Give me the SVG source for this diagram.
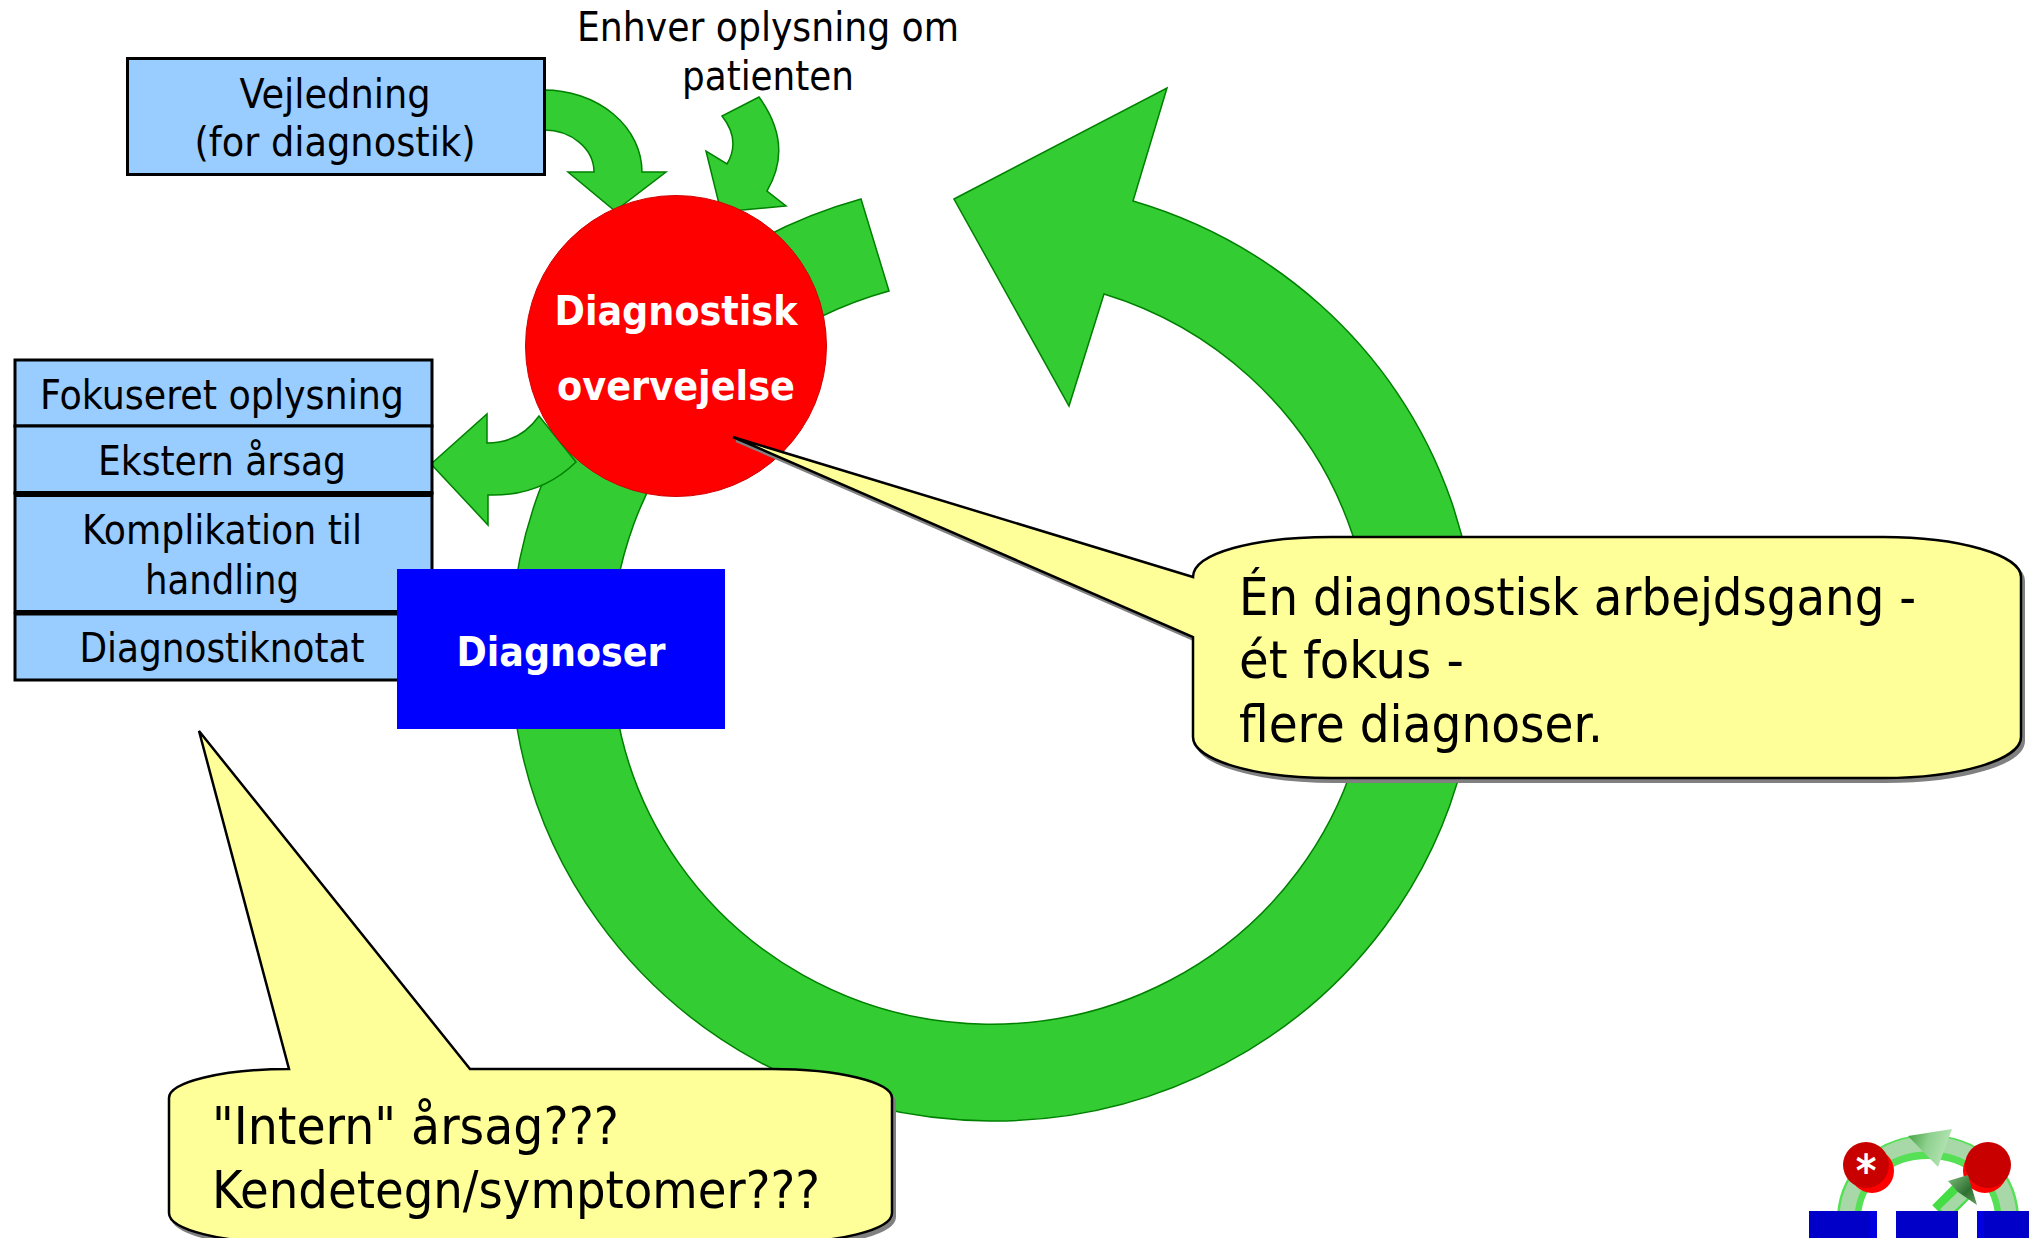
<svg xmlns="http://www.w3.org/2000/svg" width="2029" height="1238" viewBox="0 0 2029 1238">
<style>
text{font-family:"DejaVu Sans Condensed","DejaVu Sans",sans-serif;fill:#000;text-anchor:middle}
.lbl{font-size:40px}
.big{font-size:52px;text-anchor:start}
.wh{font-size:40px;font-weight:bold;fill:#fff}
.arrow{fill:#33cc33;stroke:#008000;stroke-width:1.5}
.box{fill:#99ccff;stroke:#000;stroke-width:3}
.call{fill:#ffff99;stroke:#000;stroke-width:2.5;stroke-linejoin:miter}
.shadow{fill:#808080;stroke:#808080;stroke-width:2}
</style>
<defs>
<path id="c1" d="M733,437 L1193,577 C1193,553 1255,537 1331,537 L1883,537 C1959,537 2021,555 2021,577 L2021,737 C2021,760 1959,778 1883,778 L1331,778 C1255,778 1193,760 1193,737 L1193,637 Z"/>
<path id="c2" d="M199,731 L289,1069 C223,1069 169,1082 169,1098 L169,1213 C169,1230 223,1243 289,1243 L772,1243 C838,1243 892,1230 892,1213 L892,1098 C892,1082 838,1069 772,1069 L470,1069 Z"/>
<linearGradient id="cone" x1="0" y1="0" x2="1" y2="0.3"><stop offset="0" stop-color="#3d9f3d"/><stop offset="0.5" stop-color="#8fd08f"/><stop offset="1" stop-color="#b5e5b5"/></linearGradient>
<linearGradient id="cone2" x1="0" y1="0" x2="1" y2="1"><stop offset="0" stop-color="#7fbf7f"/><stop offset="0.6" stop-color="#2f6f2f"/><stop offset="1" stop-color="#5f9f5f"/></linearGradient>
</defs>
<g id="connectors">
<path id="cycle-arrow" class="arrow" d="M954,199 L1167,88 L1133,201 A483,470 0 1 1 861,199 L889,291 A380,373.500 0 1 0 1104,294 L1069,406 Z"/>
<path id="guide-arrow" class="arrow" d="M544,90 A98,82 0 0 1 642,172 L666,172 L615,211 L568,172 L594,172 A50,42 0 0 0 544,130 Z"/>
<path id="info-arrow" class="arrow" d="M722,116 Q741,140 727,164 L706,151 L721,212 L786,206 L767,191 Q794,145 759,97 Z"/>
<path id="out-arrow" class="arrow" d="M431,464 L487,414 L487,443 Q520,443 539,416 L576,462 Q540,497 488,495 L488,525 Z"/>
</g>
<g id="node-vejledning">
<rect class="box" x="127.500" y="58.500" width="417" height="116"/>
<text class="lbl" x="335" y="108" textLength="191" lengthAdjust="spacingAndGlyphs">Vejledning</text>
<text class="lbl" x="335" y="156" textLength="281" lengthAdjust="spacingAndGlyphs">(for diagnostik)</text>
</g>
<text id="node-enhver-1" class="lbl" x="768" y="41" textLength="382" lengthAdjust="spacingAndGlyphs">Enhver oplysning om</text>
<text id="node-enhver-2" class="lbl" x="768" y="90" textLength="172" lengthAdjust="spacingAndGlyphs">patienten</text>
<g id="node-fokuseret">
<rect class="box" x="15" y="360" width="417" height="66"/>
<text class="lbl" x="222" y="409" textLength="364" lengthAdjust="spacingAndGlyphs">Fokuseret oplysning</text>
</g>
<g id="node-ekstern">
<rect class="box" x="15" y="426" width="417" height="67"/>
<text class="lbl" x="222" y="475" textLength="248" lengthAdjust="spacingAndGlyphs">Ekstern årsag</text>
</g>
<g id="node-komplikation">
<rect class="box" x="15" y="493" width="417" height="119"/>
<rect x="15" y="491" width="417" height="6" fill="#000"/>
<rect x="15" y="610" width="417" height="5" fill="#000"/>
<text class="lbl" x="222" y="544" textLength="280" lengthAdjust="spacingAndGlyphs">Komplikation til</text>
<text class="lbl" x="222" y="594" textLength="154" lengthAdjust="spacingAndGlyphs">handling</text>
</g>
<g id="node-diagnostiknotat">
<rect class="box" x="15" y="614" width="417" height="66"/>
<text class="lbl" x="222" y="662" textLength="285" lengthAdjust="spacingAndGlyphs">Diagnostiknotat</text>
</g>
<g id="node-overvejelse">
<circle cx="676" cy="346" r="150.500" fill="#ff0000" stroke="#d00000" stroke-width="1"/>
<text class="wh" x="676" y="325" textLength="243" lengthAdjust="spacingAndGlyphs">Diagnostisk</text>
<text class="wh" x="676" y="400" textLength="238" lengthAdjust="spacingAndGlyphs">overvejelse</text>
</g>
<g id="node-diagnoser">
<rect x="397" y="569" width="328" height="160" fill="#0000ff"/>
<text class="wh" x="561" y="666" textLength="209" lengthAdjust="spacingAndGlyphs">Diagnoser</text>
</g>
<g id="node-callout-fokus">
<use href="#c1" class="shadow" transform="translate(3,4)"/>
<use href="#c1" class="call"/>
<text class="big" x="1239" y="615" textLength="677" lengthAdjust="spacingAndGlyphs">Én diagnostisk arbejdsgang -</text>
<text class="big" x="1239" y="678" textLength="225" lengthAdjust="spacingAndGlyphs">ét fokus -</text>
<text class="big" x="1239" y="742" textLength="364" lengthAdjust="spacingAndGlyphs">flere diagnoser.</text>
</g>
<g id="node-callout-intern">
<use href="#c2" class="shadow" transform="translate(3,4)"/>
<use href="#c2" class="call"/>
<text class="big" x="212" y="1144" textLength="407" lengthAdjust="spacingAndGlyphs">"Intern" årsag???</text>
<text class="big" x="212" y="1208" textLength="608" lengthAdjust="spacingAndGlyphs">Kendetegn/symptomer???</text>
</g>
<g id="node-mini-icon">
<path d="M1849,1215 C1852,1175 1885,1147 1928,1147 C1972,1147 2004,1175 2007,1215" fill="none" stroke="#55e055" stroke-width="24"/>
<path d="M1847,1215 C1850,1173 1885,1144 1928,1144 C1972,1144 2006,1173 2009,1215" fill="none" stroke="#a8d8a8" stroke-width="15"/>
<path d="M1940,1213 L1965,1188" fill="none" stroke="#44dd44" stroke-width="22"/>
<path d="M1944,1213 L1968,1190" fill="none" stroke="#a5d8a5" stroke-width="11"/>
<path d="M1908,1136 L1952,1129 L1938,1167 Z" fill="url(#cone)"/>
<circle cx="1872" cy="1171" r="22" fill="#ff0000"/>
<circle cx="1985" cy="1171" r="22" fill="#ff0000"/>
<circle cx="1866" cy="1165" r="23" fill="#c80000"/>
<circle cx="1988" cy="1165" r="23" fill="#c80000"/>
<path d="M1948,1181 L1968,1175 L1977,1205 L1958,1192 Z" fill="url(#cone2)"/>
<rect x="1809" y="1211" width="62" height="27" fill="#0000c8"/>
<rect x="1870" y="1211" width="7" height="27" fill="#0000e0"/>
<rect x="1896" y="1211" width="62" height="27" fill="#0000c8"/>
<rect x="1977" y="1211" width="52" height="27" fill="#0000c8"/>
<rect x="1977" y="1211" width="7" height="27" fill="#0000e0"/>
<text x="1866" y="1186" font-size="44" font-weight="bold" style="fill:#fff">*</text>
</g>
</svg>
